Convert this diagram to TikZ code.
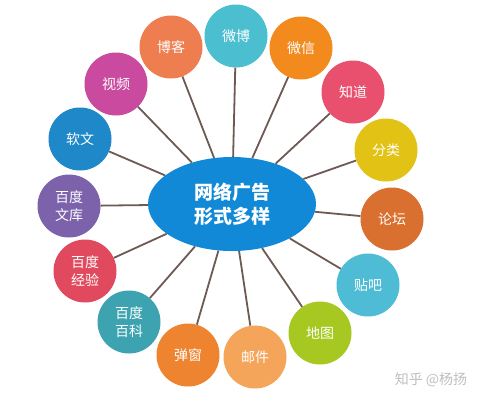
\documentclass[tikz,border=0pt]{standalone}
\usepackage{fontspec}
\newfontfamily\cjk{Noto Sans CJK SC}
\usetikzlibrary{shapes.geometric}
\definecolor{cBoke}{HTML}{EE7E4F}
\definecolor{cWeibo}{HTML}{4BBFD0}
\definecolor{cWeixin}{HTML}{F28A1E}
\definecolor{cZhidao}{HTML}{E8506E}
\definecolor{cFenlei}{HTML}{E2C214}
\definecolor{cLuntan}{HTML}{D9702F}
\definecolor{cTieba}{HTML}{4FBCD6}
\definecolor{cDitu}{HTML}{A6C820}
\definecolor{cYoujian}{HTML}{F5A55A}
\definecolor{cTanchuang}{HTML}{EE8430}
\definecolor{cBaike}{HTML}{3EA3B0}
\definecolor{cJingyan}{HTML}{E14A5E}
\definecolor{cWenku}{HTML}{7B62AB}
\definecolor{cRuanwen}{HTML}{1E88C8}
\definecolor{cShipin}{HTML}{C94A9E}
\definecolor{cCenter}{HTML}{1189D6}
\definecolor{cLine}{HTML}{6E5A55}
\tikzset{
  bubble/.style={circle, minimum size=63pt, inner sep=0pt, text=white,
    font=\cjk\fontsize{14}{18}\selectfont, align=center},
  hub/.style={ellipse, fill=cCenter, minimum width=168pt, minimum height=94pt,
    inner sep=0pt, text=white, font=\cjk\bfseries\fontsize{19}{24}\selectfont, align=center},
  spoke/.style={draw=cLine, line width=1.8pt}
}
\begin{document}
\begin{tikzpicture}[x=1pt,y=-1pt]
\fill[white] (0,0) rectangle (481,400);
\useasboundingbox (0,0) rectangle (481,400);
\node[hub] (c) at (232,204) {网络广告\\形式多样};
\node[bubble, fill=cBoke] (boke) at (171,47) {博客};
\node[bubble, fill=cWeibo] (weibo) at (236,36) {微博};
\node[bubble, fill=cWeixin] (weixin) at (301,48) {微信};
\node[bubble, fill=cZhidao] (zhidao) at (353,92) {知道};
\node[bubble, fill=cFenlei] (fenlei) at (386,150) {分类};
\node[bubble, fill=cLuntan] (luntan) at (392,219) {论坛};
\node[bubble, fill=cTieba] (tieba) at (368,285) {贴吧};
\node[bubble, fill=cDitu] (ditu) at (320,333) {地图};
\node[bubble, fill=cYoujian] (youjian) at (255,357) {邮件};
\node[bubble, fill=cTanchuang] (tanchuang) at (188,355) {弹窗};
\node[bubble, fill=cBaike] (baike) at (129,322) {百度\\百科};
\node[bubble, fill=cJingyan] (jingyan) at (85,271) {百度\\经验};
\node[bubble, fill=cWenku] (wenku) at (69,206) {百度\\文库};
\node[bubble, fill=cRuanwen] (ruanwen) at (80,139) {软文};
\node[bubble, fill=cShipin] (shipin) at (116,84) {视频};
\foreach \n in {boke,weibo,weixin,zhidao,fenlei,luntan,tieba,ditu,youjian,tanchuang,baike,jingyan,wenku,ruanwen,shipin}
  \draw[spoke] (c) -- (\n);
\node[text=black!25, font=\cjk\fontsize{14}{16}\selectfont] (wm) at (431,380) {知乎 @杨扬};
\end{tikzpicture}
\end{document}
